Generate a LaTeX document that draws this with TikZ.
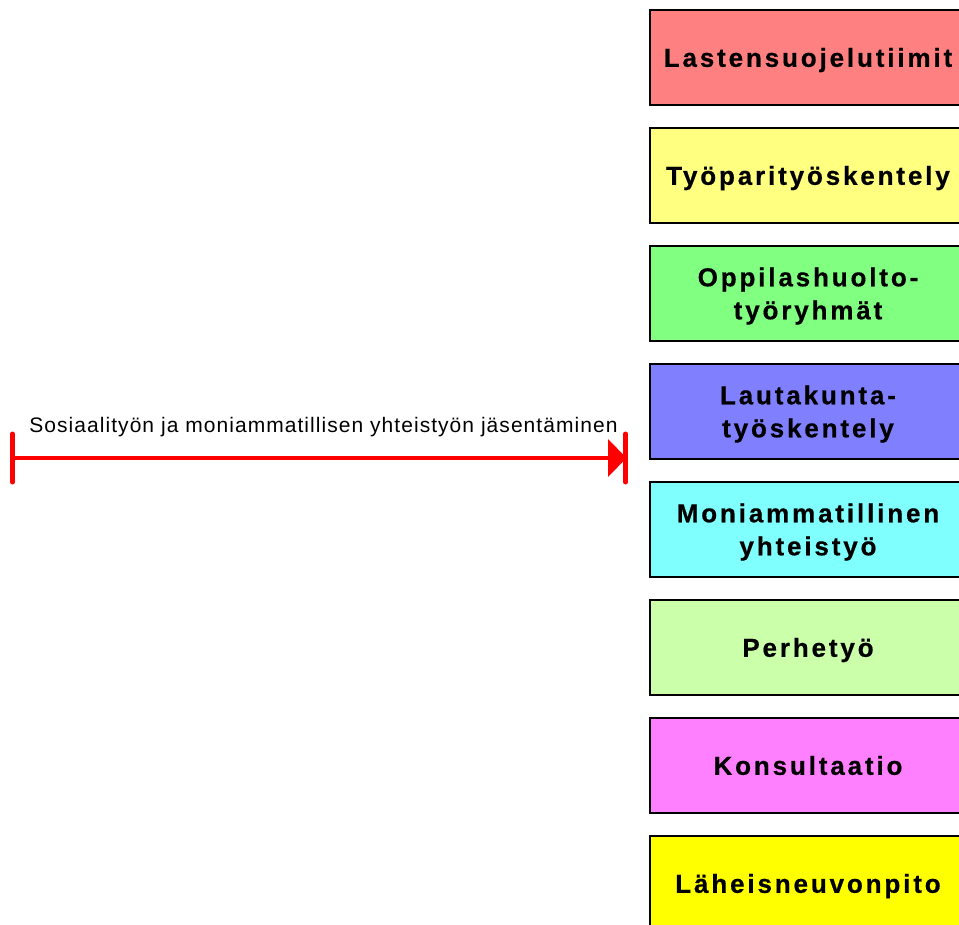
\documentclass[tikz,border=0pt]{standalone}
\usepackage{fontspec}
\newfontfamily\boxfont[LetterSpace=11,BoldFeatures={FakeBold=0.6}]{Liberation Sans}
\newfontfamily\labelfont[LetterSpace=5]{Liberation Sans}
\definecolor{cred}{HTML}{FF8080}
\definecolor{cyel}{HTML}{FFFF80}
\definecolor{cgreen}{HTML}{80FF80}
\definecolor{cblue}{HTML}{8080FF}
\definecolor{ccyan}{HTML}{80FFFF}
\definecolor{clgreen}{HTML}{CCFFAA}
\definecolor{cpink}{HTML}{FF80FF}
\definecolor{cyellow}{HTML}{FFFF00}
\definecolor{arrowred}{HTML}{FF0000}
\begin{document}
\begin{tikzpicture}[x=1pt,y=1pt,
  itembox/.style={draw=black, line width=2pt, rectangle, inner sep=0pt,
    minimum width=316pt, minimum height=95pt, align=center,
    text height=18.6pt, text depth=0pt,
    font=\boxfont\bfseries\fontsize{26}{33}\selectfont},
  twoline/.style={text height=51.6pt, text depth=0pt},
  redline/.style={draw=arrowred, line width=4.5pt},
  redbar/.style={draw=arrowred, line width=5pt, line cap=round},
  labeltext/.style={inner sep=0pt, anchor=base, font=\labelfont\fontsize{21}{25}\selectfont}
]
\useasboundingbox (0,0) rectangle (959,-925);
% boxes
\node[itembox, fill=cred]    (b1) at (808,-57.5)  {Lastensuojelutiimit};
\node[itembox, fill=cyel]    (b2) at (808,-175.5) {Työparityöskentely};
\node[itembox, twoline, fill=cgreen]  (b3) at (808,-293.5) {Oppilashuolto-\\työryhmät};
\node[itembox, twoline, fill=cblue]   (b4) at (808,-411.5) {Lautakunta-\\työskentely};
\node[itembox, twoline, fill=ccyan]   (b5) at (808,-529.5) {Moniammatillinen\\yhteistyö};
\node[itembox, fill=clgreen] (b6) at (808,-647.5) {Perhetyö};
\node[itembox, fill=cpink]   (b7) at (808,-765.5) {Konsultaatio};
\node[itembox, fill=cyellow] (b8) at (808,-883.5) {Läheisneuvonpito};
% arrow
\coordinate (aL) at (12.5,-458);
\coordinate (aR) at (625.5,-458);
\coordinate (aB) at (608,-458);
\draw[redline] (aL) -- (aB);
\fill[arrowred] ([yshift=19pt]aB) -- ([xshift=1pt]aR) -- ([yshift=-19pt]aB) -- cycle;
\draw[redbar] ([yshift=24pt]aL) -- ([yshift=-24pt]aL);
\draw[redbar] ([yshift=24pt]aR) -- ([yshift=-24pt]aR);
\node[labeltext] (lab) at (323.5,-432) {Sosiaalityön ja moniammatillisen yhteistyön jäsentäminen};
\end{tikzpicture}
\end{document}
